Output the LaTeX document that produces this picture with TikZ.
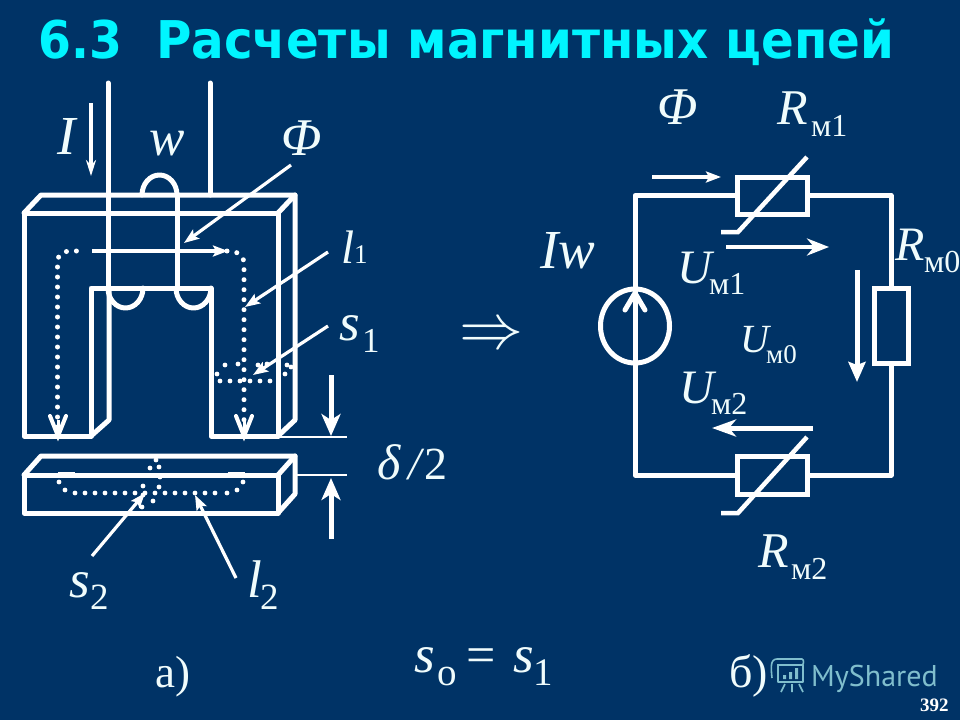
\documentclass[tikz,border=0pt]{standalone}
\usepackage{fontspec}
\setmainfont{Liberation Serif}
\newfontfamily\titlefont{DejaVu Sans}
\newfontfamily\wmfont{PT Sans}
\usetikzlibrary{arrows.meta,shapes.geometric}
\definecolor{bgblue}{RGB}{0,51,102}
\definecolor{ttl}{RGB}{0,245,255}
\definecolor{ink}{RGB}{240,252,252}
\definecolor{wmark}{RGB}{128,190,205}
\newcommand{\fs}[1]{\fontsize{#1}{#1}\selectfont}
\tikzset{
 x=1pt,y=-1pt,
 wire/.style={draw=white,line width=5pt,line cap=round,line join=round},
 hair/.style={draw=white,line width=2.5pt},
 dot/.style={fill=white,draw=none},
 dots/.style={draw=white,line width=5pt,line cap=round,dash pattern=on 0pt off 10pt},
 lab/.style={anchor=base west,inner sep=0pt,text=ink},
 pin/.style={draw=white,line width=3.2pt,-{Stealth[length=15pt,width=11pt,inset=3pt,fill=white]}},
 fat/.style={draw=white,line width=5pt,-{Stealth[length=22pt,width=19pt,inset=6pt,fill=white]}},
 res/.style={draw=white,line width=5pt,rectangle,inner sep=0pt,fill=bgblue},
}
\begin{document}
\begin{tikzpicture}
\useasboundingbox (0,0) rectangle (960,720);
\fill[bgblue] (0,0) rectangle (960,720);
% title
\node[lab,text=ttl,xscale=0.91] (title) at (38,58) {\titlefont\bfseries\fs{52}6.3};
\node[lab,text=ttl,xscale=0.93] (title2) at (156,58) {\titlefont\bfseries\fs{52}Расчеты магнитных цепей};
% --- core
\draw[wire] (24,213) -- (278,213) -- (278,436) -- (211,436) -- (211,288) -- (91,288) -- (91,436) -- (24,436) -- cycle;
\draw[wire] (24,213) -- (41,195) -- (295,195) -- (295,420) -- (278,436);
\draw[wire] (278,213) -- (295,195);
\draw[wire] (109,288) -- (109,420) -- (91,436);
\draw[hair] (280,437) -- (347,437);
% winding
\draw[wire] (108,83) -- (108,288);
\draw[wire] (210,83) -- (210,195);
\draw[wire] (177,195) -- (177,288);
\draw[wire] (142,195) arc[start angle=180,end angle=360,x radius=17.5,y radius=20];
\draw[wire] (108,288) arc[start angle=180,end angle=0,x radius=17.5,y radius=20];
\draw[wire] (176,288) arc[start angle=180,end angle=0,x radius=17.5,y radius=20];
% flux path
\draw[dots] (57.5,427) -- (57.5,262) .. controls (57.5,255) and (63,251) .. (70,251) -- (86,251);
\draw[dots] (227,251) .. controls (236,251) and (244,254) .. (244,264) -- (244,427);
\draw[pin] (92,251) -- (228,251);
\draw[draw=white,line width=4pt,line cap=round] (50,416) -- (58,436) -- (66,416);
\draw[draw=white,line width=4pt,line cap=round] (236,416) -- (244,436) -- (252,416);
\draw[draw=white,line width=3pt] (58,420) -- (58,436) (244,420) -- (244,436);
% s1 dots
\foreach \p in {(217,374),(225,365),(238,364),(258,365),(267,364),(287,365),(291,367),(285,374),(270,381),(260,381),(250,381),(240,381),(230,381),(220,381)}
  \fill[dot] \p circle (2.4);
% arrows to labels
\coordinate (phiS) at (291,165); \coordinate (phiE) at (184,243);
\coordinate (l1S) at (328,252); \coordinate (l1E) at (245,307);
\coordinate (s1S) at (328,326); \coordinate (s1E) at (253,375);
\draw[pin] (phiS) -- (phiE);
\draw[pin] (l1S) -- (l1E);
\draw[pin] (s1S) -- (s1E);
\draw[draw=white,line width=3.5pt,-{Stealth[length=16pt,width=10pt,fill=white]}] (91,103) -- (91,176);
% delta arrows
\draw[fat] (331,375) -- (331,436);
\draw[fat] (331,539) -- (331,478);
\draw[hair] (295,475) -- (347,475);
% --- bar
\draw[wire] (24,475) rectangle (278,513);
\draw[wire] (24,475) -- (41,456) -- (295,456) -- (295,494) -- (278,513);
\draw[wire] (278,475) -- (295,456);
\draw[draw=white,line width=3.5pt] (58,473.5) -- (75,473.5) (228,473.5) -- (245,473.5);
\foreach \p in {(59,482),(65,490),(75,493),(85,493),(95,493),(105,493),(115,493),(125,493),(135,493),(145,493),(155,493),(165,493),(175,493),(185,493),(195,493),(205,493),(215,493),(227,493),(237,490),(243,482),
 (156,460),(150,468),(159,467),(160,477),(143,486),(143,495),(159,487),(153,501),(142,507)}
  \fill[dot] \p circle (2.4);
\coordinate (s2S) at (92,556); \coordinate (s2E) at (145,493);
\coordinate (l2S) at (236,578); \coordinate (l2E) at (195,495);
\draw[pin] (s2S) -- (s2E);
\draw[pin] (l2S) -- (l2E);
% --- left labels
\node[lab] (tI) at (57,154) {\fs{55}\itshape I};
\node[lab] (tw) at (149,155) {\fs{53}\itshape w};
\node[lab] (tPhi) at (281,155) {\fs{53}\itshape Φ};
\node[lab] (tl1) at (341,263) {\fs{47}\itshape l};
\node[lab] (tl1b) at (354,263) {\fs{27}1};
\node[lab] (ts1) at (339,340) {\fs{53}\itshape s};
\node[lab] (ts1b) at (362,352) {\fs{35}1};
\node[lab] (tdel) at (377,479) {\fs{50}\itshape δ};
\node[lab] (tslash) at (408,479) {\fs{46}\itshape /};
\node[lab] (ttwo) at (424,479) {\fs{46}2};
\node[lab] (ts2) at (69,597) {\fs{53}\itshape s};
\node[lab] (ts2b) at (90,609) {\fs{37}2};
\node[lab] (tl2) at (247,597) {\fs{53}\itshape l};
\node[lab] (tl2b) at (260,609) {\fs{37}2};
\node[lab] (tso) at (414,672) {\fs{53}\itshape s};
\node[lab] (tsob) at (437,685) {\fs{39}о};
\node[lab] (teq) at (466,672) {\fs{52}=};
\node[lab] (ts11) at (513,672) {\fs{53}\itshape s};
\node[lab] (ts11b) at (533,685) {\fs{39}1};
\node[lab] (ta) at (155,687) {\fs{45}а)};
\node[lab] (tb) at (729,687) {\fs{46}б)};
\node[anchor=center,inner sep=0pt,text=ink,scale=6.4] (impl) at (491,336.5) {$\Rightarrow$};
% --- circuit
\node[res,minimum width=70pt,minimum height=37pt] (R1) at (772,195.5) {};
\node[res,minimum width=70pt,minimum height=38pt] (R2) at (772,475) {};
\node[res,minimum width=34pt,minimum height=75pt] (R0) at (891,325.5) {};
\node[draw=white,line width=5pt,ellipse,minimum width=69pt,minimum height=74pt,inner sep=0pt] (src) at (635,326) {};
\coordinate (cTL) at (635,195.5); \coordinate (cTR) at (891,195.5);
\coordinate (cBL) at (635,475); \coordinate (cBR) at (891,475);
\draw[wire] (src.north) -- (src.south);
\draw[wire] (src.north) -- (cTL) -- (R1.west);
\draw[wire] (R1.east) -- (cTR) -- (R0.north);
\draw[wire] (R0.south) -- (cBR) -- (R2.east);
\draw[wire] (R2.west) -- (cBL) -- (src.south);
\draw[draw=white,line width=5pt,line cap=round,line join=miter] (625,310) -- (635,293) -- (645,310);
% slashes
\draw[draw=white,line width=4.5pt] (807,157) -- (738,232) -- (721,232);
\draw[draw=white,line width=4.5pt] (807,437) -- (738,513) -- (721,513);
% circuit arrows
\draw[pin] (652,177) -- (721,177);
\draw[draw=white,line width=4.5pt,-{Stealth[length=22pt,width=17pt,inset=7pt,fill=white]}] (726,247) -- (829,247);
\draw[draw=white,line width=5pt,-{Stealth[length=20pt,width=17pt,inset=3pt,fill=white]}] (857,270) -- (857,382);
\draw[draw=white,line width=5pt,-{Stealth[length=24pt,width=17pt,inset=7pt,fill=white]}] (813,428) -- (712,428);
% circuit labels
\node[lab] (tPhi2) at (657,124) {\fs{53}\itshape Φ};
\node[lab] (tR1) at (777,124) {\fs{50}\itshape R};
\node[lab] (tR1b) at (811,136) {\fs{32}м1};
\node[lab] (tIw) at (540,268) {\fs{55}\itshape Iw};
\node[lab] (tU1) at (677,283) {\fs{48}\itshape U};
\node[lab] (tU1b) at (709,294) {\fs{32}м1};
\node[lab] (tR0) at (895,260) {\fs{48}\itshape R};
\node[lab] (tR0b) at (924,272) {\fs{32}м0};
\node[lab] (tU0) at (740,352) {\fs{40}\itshape U};
\node[lab] (tU0b) at (766,363) {\fs{27}м0};
\node[lab] (tU2) at (679,403) {\fs{48}\itshape U};
\node[lab] (tU2b) at (711,414) {\fs{32}м2};
\node[lab] (tR2) at (758,567) {\fs{50}\itshape R};
\node[lab] (tR2b) at (791,579) {\fs{32}м2};
% watermark
\node[lab,text=wmark] (wm) at (811,686) {\wmfont\fs{30}MyShared};
\begin{scope}[draw=wmark,line width=1.6pt,line join=round]
\draw (772,678) .. controls (771,668) and (770,659) .. (777,659) -- (802,659) .. controls (804,659) and (804,665) .. (802,665) -- (777,665);
\draw (778,665) -- (778,682) -- (803,682) -- (803,665);
\draw (785,684) -- (781,692) (792,684) -- (792,692) (799,684) -- (803,692);
\fill[wmark] (783,675) rectangle (786,679) (789,672) rectangle (792,679) (795,668) rectangle (798,679);
\end{scope}
\node[lab,text=white] (page) at (920,711) {\fs{19}\bfseries 392};
\end{tikzpicture}
\end{document}
